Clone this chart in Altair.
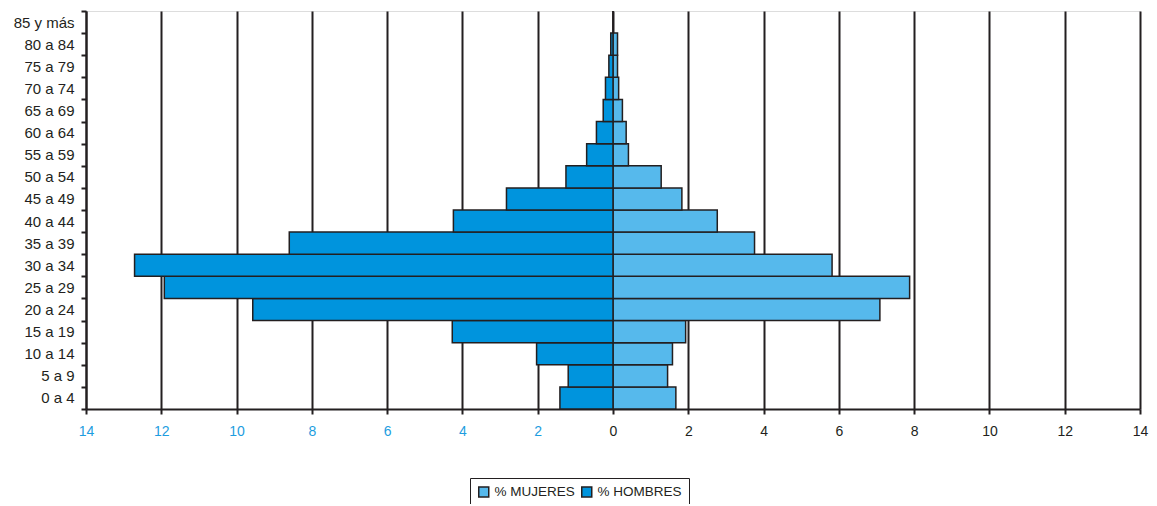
import altair as alt
import pandas as pd

grupos = ["0 a 4", "5 a 9", "10 a 14", "15 a 19", "20 a 24", "25 a 29", "30 a 34",
          "35 a 39", "40 a 44", "45 a 49", "50 a 54", "55 a 59", "60 a 64",
          "65 a 69", "70 a 74", "75 a 79", "80 a 84", "85 y más"]
hombres = [1.41, 1.19, 2.03, 4.27, 9.57, 11.92, 12.71, 8.60, 4.24, 2.83, 1.25,
           0.70, 0.44, 0.26, 0.20, 0.11, 0.06, 0.0]
mujeres = [1.67, 1.45, 1.58, 1.93, 7.09, 7.88, 5.82, 3.76, 2.77, 1.83, 1.28,
           0.41, 0.35, 0.25, 0.15, 0.12, 0.12, 0.0]
series = ["% MUJERES", "% HOMBRES"]
colores = ["#56B9EC", "#0094DD"]
ticks_x = list(range(-14, 15, 2))

rows = []
for g, h, m in zip(grupos, hombres, mujeres):
    rows.append({"grupo": g, "serie": "% MUJERES", "valor": m})
    rows.append({"grupo": g, "serie": "% HOMBRES", "valor": -h})
df = pd.DataFrame(rows)

orden = list(reversed(grupos))

chart = alt.Chart(df).mark_bar(
    stroke="#231f20", strokeWidth=1.5
).encode(
    x=alt.X("valor:Q",
            scale=alt.Scale(domain=[-14, 14], nice=False, zero=False),
            axis=alt.Axis(values=ticks_x, title=None, grid=True,
                          gridColor="#231f20", gridWidth=2, gridOpacity=1,
                          domainColor="#231f20", domainWidth=2,
                          tickColor="#231f20", tickWidth=2, tickSize=5,
                          labelFontSize=14, labelPadding=10, labelFlush=False,
                          labelExpr="abs(datum.value)",
                          labelColor={"expr": "datum.value < 0 ? '#1d9de0' : '#231f20'"})),
    y=alt.Y("grupo:N", sort=orden,
            scale=alt.Scale(paddingInner=0, paddingOuter=0),
            axis=alt.Axis(title=None, tickBand="extent", grid=False,
                          domainColor="#231f20", domainWidth=2,
                          tickColor="#231f20", tickWidth=2, tickSize=5,
                          labelFontSize=15, labelPadding=7,
                          labelColor="#231f20")),
    color=alt.Color("serie:N",
                    scale=alt.Scale(domain=series, range=colores),
                    legend=alt.Legend(title=None, orient="none",
                                      legendX=384, legendY=467,
                                      direction="horizontal",
                                      symbolType="square", symbolSize=100,
                                      symbolStrokeColor="#231f20",
                                      symbolStrokeWidth=1.5,
                                      symbolOpacity=1,
                                      labelFontSize=13.5, labelColor="#231f20",
                                      labelOffset=4, columnPadding=3,
                                      strokeColor="#231f20", padding=7)),
).properties(
    width=1054, height=398,
    autosize=alt.AutoSizeParams(type="none"),
    padding={"left": 78, "top": 3, "right": 9, "bottom": 95},
).configure_view(
    stroke=None
).configure(
    font="Liberation Sans"
)

chart.save("out.html", embed_options={"renderer": "svg", "actions": False})
